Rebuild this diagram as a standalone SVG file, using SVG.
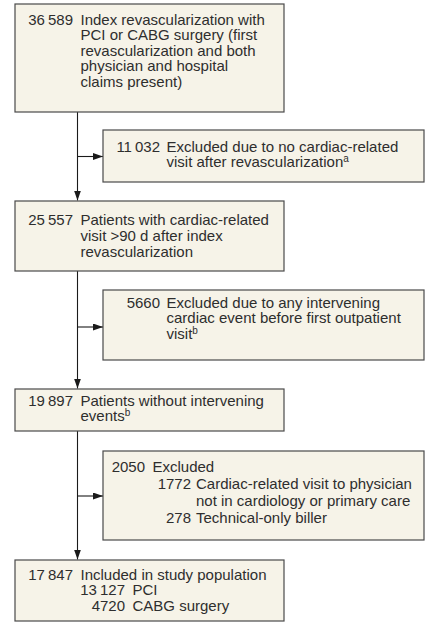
<svg xmlns="http://www.w3.org/2000/svg" width="425" height="625" viewBox="0 0 425 625">
<style>
.box{fill:#f6f3e8;stroke:#4a4a4a;stroke-width:1.2}
text{font-family:"Liberation Sans",Arial,sans-serif;font-size:15px;fill:#2e2e2e}
.n{text-anchor:end}
.l{text-anchor:start}
.sup{font-size:10px}
.ln{stroke:#1a1a1a;stroke-width:1.1;fill:none}
</style>
<defs>
<marker id="ah" viewBox="0 0 10 7" refX="10" refY="3.5" markerWidth="10" markerHeight="7" markerUnits="userSpaceOnUse" orient="auto">
<path d="M0,0 L10,3.5 L0,7 z" fill="#1a1a1a"/>
</marker>
</defs>
<rect width="425" height="625" fill="#ffffff"/>
<g id="connectors">
<line class="ln" x1="77.5" y1="112" x2="77.5" y2="200.5" marker-end="url(#ah)"/>
<line class="ln" x1="77.5" y1="156.5" x2="103" y2="156.5" marker-end="url(#ah)"/>
<line class="ln" x1="77.5" y1="271" x2="77.5" y2="388.5" marker-end="url(#ah)"/>
<line class="ln" x1="77.5" y1="327" x2="103" y2="327" marker-end="url(#ah)"/>
<line class="ln" x1="77.5" y1="431" x2="77.5" y2="559.5" marker-end="url(#ah)"/>
<line class="ln" x1="77.5" y1="496" x2="103" y2="496" marker-end="url(#ah)"/>
</g>
<g id="n1">
<rect class="box" x="15" y="4" width="269" height="108"/>
<text><tspan class="n" x="73" y="24.5">36&#8201;589</tspan><tspan class="l" x="80.5" y="24.5">Index revascularization with</tspan><tspan class="l" x="80.5" y="40">PCI or CABG surgery (first</tspan><tspan class="l" x="80.5" y="55.5">revascularization and both</tspan><tspan class="l" x="80.5" y="71">physician and hospital</tspan><tspan class="l" x="80.5" y="86.5">claims present)</tspan></text>
</g>
<g id="n2">
<rect class="box" x="103" y="130" width="321" height="52"/>
<text><tspan class="n" x="160" y="151.5">11&#8201;032</tspan><tspan class="l" x="166.5" y="151.5">Excluded due to no cardiac-related</tspan><tspan class="l" x="166.5" y="167">visit after revascularization</tspan><tspan class="sup" dy="-5">a</tspan></text>
</g>
<g id="n3">
<rect class="box" x="15" y="201" width="269" height="70"/>
<text><tspan class="n" x="73" y="225">25&#8201;557</tspan><tspan class="l" x="80.5" y="225">Patients with cardiac-related</tspan><tspan class="l" x="80.5" y="241">visit &gt;90 d after index</tspan><tspan class="l" x="80.5" y="257">revascularization</tspan></text>
</g>
<g id="n4">
<rect class="box" x="103" y="290" width="321" height="70"/>
<text><tspan class="n" x="160" y="307.5">5660</tspan><tspan class="l" x="166.5" y="307.5">Excluded due to any intervening</tspan><tspan class="l" x="166.5" y="323">cardiac event before first outpatient</tspan><tspan class="l" x="166.5" y="338.5">visit</tspan><tspan class="sup" dy="-5">b</tspan></text>
</g>
<g id="n5">
<rect class="box" x="15" y="389" width="269" height="42"/>
<text><tspan class="n" x="73" y="405.5">19&#8201;897</tspan><tspan class="l" x="80.5" y="405.5">Patients without intervening</tspan><tspan class="l" x="80.5" y="421">events</tspan><tspan class="sup" dy="-5">b</tspan></text>
</g>
<g id="n6">
<rect class="box" x="103" y="451" width="321" height="89"/>
<text><tspan class="n" x="145" y="471.5">2050</tspan><tspan class="l" x="152.5" y="471.5">Excluded</tspan><tspan class="n" x="191" y="489">1772</tspan><tspan class="l" x="196" y="489">Cardiac-related visit to physician</tspan><tspan class="l" x="196" y="506">not in cardiology or primary care</tspan><tspan class="n" x="191" y="523">278</tspan><tspan class="l" x="196" y="523">Technical-only biller</tspan></text>
</g>
<g id="n7">
<rect class="box" x="15" y="560" width="269" height="61"/>
<text><tspan class="n" x="73" y="579.5">17&#8201;847</tspan><tspan class="l" x="80.5" y="579.5">Included in study population</tspan><tspan class="n" x="125" y="595">13&#8201;127</tspan><tspan class="l" x="132.5" y="595">PCI</tspan><tspan class="n" x="125" y="610.5">4720</tspan><tspan class="l" x="132.5" y="610.5">CABG surgery</tspan></text>
</g>
</svg>
